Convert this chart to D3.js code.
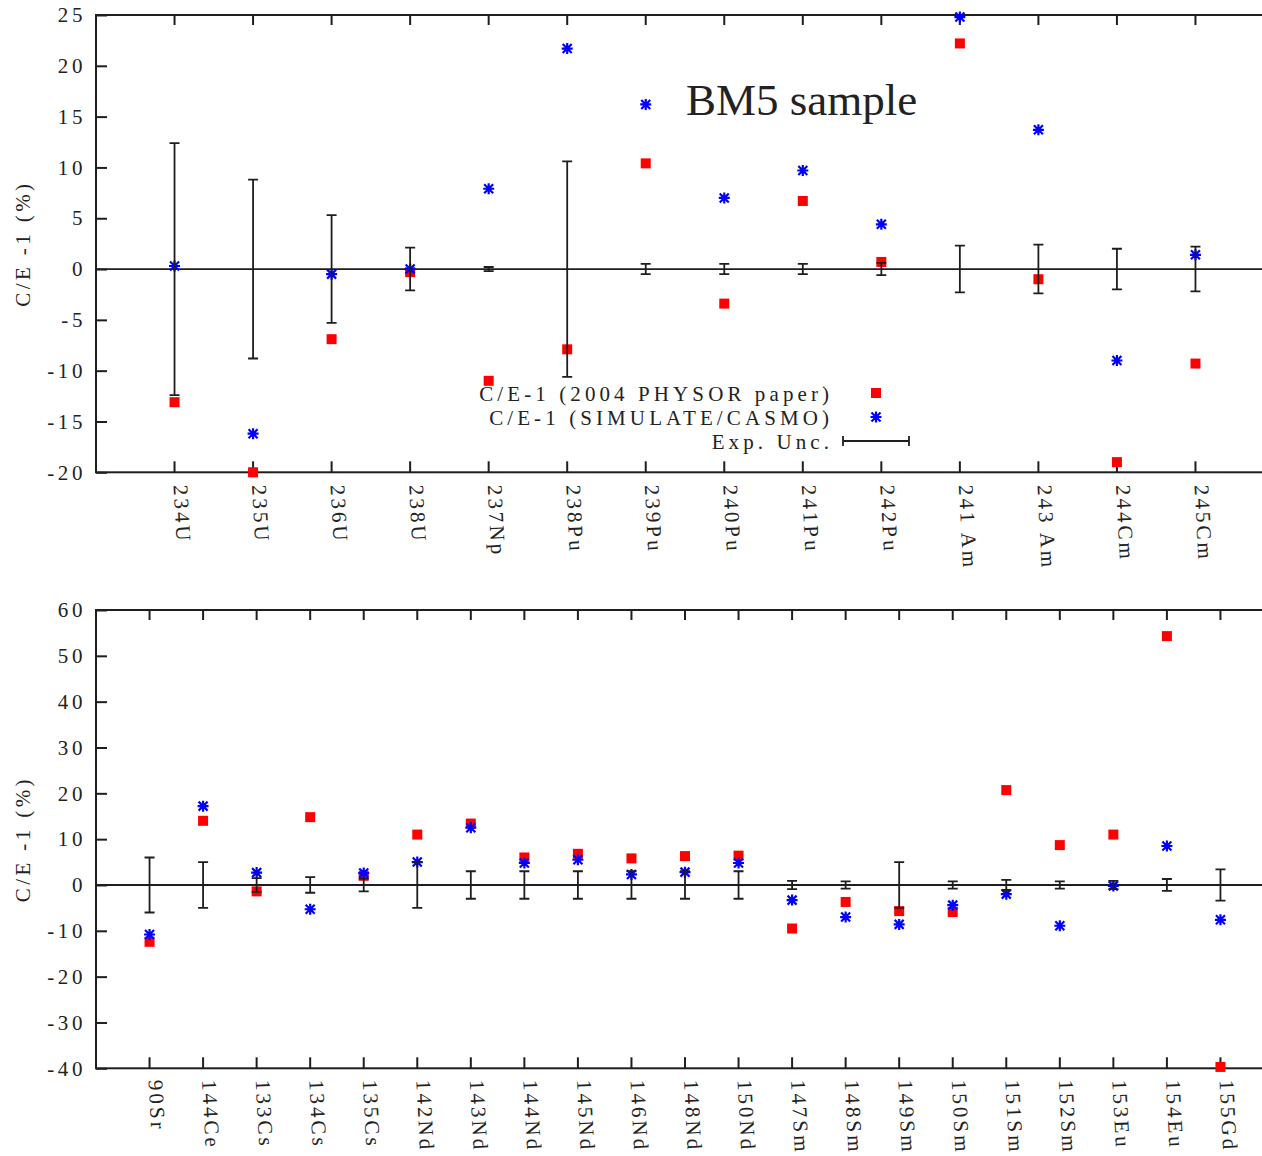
<!DOCTYPE html>
<html>
<head>
<meta charset="utf-8">
<script src="https://cdn.jsdelivr.net/npm/d3@7"></script>
<style>
  html, body { margin: 0; padding: 0; background: #fff; }
  svg { display: block; }
  text { font-family: "Liberation Serif", "DejaVu Serif", serif; fill: #222; }
</style>
</head>
<body>
<svg id="chart" width="1262" height="1156"></svg>
<script>
// ---- Actinides (upper panel) ----
const actinideLabels = ["234U", "235U", "236U", "238U", "237Np", "238Pu", "239Pu", "240Pu",
                        "241Pu", "242Pu", "241 Am", "243 Am", "244Cm", "245Cm"];
const actinidePhysor = [-13.1, -20.0, -6.9, -0.3, -11.0, -7.9, 10.4, -3.4, 6.7, 0.7, 22.2, -1.0, -19.0, -9.3];
const actinideCasmo  = [0.3, -16.2, -0.5, 0.0, 7.9, 21.7, 16.2, 7.0, 9.7, 4.4, 24.8, 13.7, -9.0, 1.4];
const actinideUnc    = [12.4, 8.8, 5.3, 2.1, 0.2, 10.6, 0.5, 0.5, 0.5, 0.6, 2.3, 2.4, 2.0, 2.2];
const actinideTicks  = [-20, -15, -10, -5, 0, 5, 10, 15, 20, 25];

// ---- Fission products (lower panel) ----
const fissionLabels = ["90Sr", "144Ce", "133Cs", "134Cs", "135Cs", "142Nd", "143Nd", "144Nd",
                       "145Nd", "146Nd", "148Nd", "150Nd", "147Sm", "148Sm", "149Sm", "150Sm",
                       "151Sm", "152Sm", "153Eu", "154Eu", "155Gd"];
const fissionPhysor = [-12.4, 14.0, -1.4, 14.8, 2.0, 11.0, 13.4, 6.0, 6.8, 5.8, 6.3, 6.4,
                       -9.5, -3.7, -5.7, -5.9, 20.7, 8.7, 11.0, 54.3, -39.7];
const fissionCasmo  = [-10.8, 17.2, 2.7, -5.3, 2.6, 5.0, 12.5, 4.8, 5.5, 2.3, 2.8, 4.8,
                       -3.3, -7.0, -8.6, -4.4, -2.0, -8.9, -0.2, 8.5, -7.6];
const fissionUnc    = [6.0, 5.0, 1.5, 1.7, 1.4, 5.0, 3.0, 3.0, 3.0, 3.0, 3.0, 3.0,
                       0.9, 0.8, 5.0, 0.8, 1.1, 0.8, 0.9, 1.3, 3.4];
const fissionTicks  = [-40, -30, -20, -10, 0, 10, 20, 30, 40, 50, 60];

const legendLabels = ["C/E-1 (2004 PHYSOR paper)", "C/E-1 (SIMULATE/CASMO)", "Exp. Unc."];
const yAxisTitle = "C/E -1 (%)";
const sampleTitle = "BM5 sample";

const INK = "#1e1e1e";
const RED = "#ff0000";
const BLUE = "#0000ff";
const FONT_SIZE = 21;
const LETTER_SP = 3.6;

const svg = d3.select("#chart");

function squareMark(sel, cx, cy) {
  sel.append("rect")
    .attr("x", cx - 5).attr("y", cy - 5)
    .attr("width", 10).attr("height", 10)
    .attr("fill", RED);
}

function starMark(sel, cx, cy) {
  sel.append("path")
    .attr("transform", `translate(${cx},${cy})`)
    .attr("d", "M-5.5,0H5.5M0,-5.5V5.5M-4.5,-4.5L4.5,4.5M-4.5,4.5L4.5,-4.5")
    .attr("fill", "none")
    .attr("stroke", BLUE)
    .attr("stroke-width", 2.2);
}

function drawPanel(cfg) {
  const g = svg.append("g");
  const n = cfg.labels.length;
  const x = d3.scaleLinear().domain([0, n + 1]).range([cfg.left, cfg.right]);
  const y = d3.scaleLinear().domain(cfg.yDomain).range([cfg.bottom, cfg.top]);
  const idx = d3.range(n);

  // frame
  g.append("rect")
    .attr("x", cfg.left).attr("y", cfg.top)
    .attr("width", cfg.right - cfg.left).attr("height", cfg.bottom - cfg.top)
    .attr("fill", "none").attr("stroke", INK).attr("stroke-width", 2);

  // y axis (left, with labels) and mirrored ticks (right)
  const yAxis = g.append("g")
    .attr("transform", `translate(${cfg.left},0)`)
    .call(d3.axisLeft(y).tickValues(cfg.ticks).tickSize(-11).tickPadding(10).tickFormat(d => String(d)));
  yAxis.select(".domain").remove();
  yAxis.selectAll(".tick line").attr("stroke", INK).attr("stroke-width", 2);
  yAxis.selectAll(".tick text")
    .attr("font-family", "Liberation Serif, DejaVu Serif, serif")
    .attr("font-size", FONT_SIZE)
    .attr("letter-spacing", LETTER_SP)
    .attr("fill", "#222");

  const yAxisR = g.append("g")
    .attr("transform", `translate(${cfg.right},0)`)
    .call(d3.axisRight(y).tickValues(cfg.ticks).tickSize(-11).tickFormat(""));
  yAxisR.select(".domain").remove();
  yAxisR.selectAll(".tick line").attr("stroke", INK).attr("stroke-width", 2);

  // x ticks on bottom and top edges
  g.selectAll(".xtick-b").data(idx).join("line")
    .attr("x1", i => x(i + 1)).attr("x2", i => x(i + 1))
    .attr("y1", cfg.bottom).attr("y2", cfg.bottom - 11)
    .attr("stroke", INK).attr("stroke-width", 2);
  g.selectAll(".xtick-t").data(idx).join("line")
    .attr("x1", i => x(i + 1)).attr("x2", i => x(i + 1))
    .attr("y1", cfg.top).attr("y2", cfg.top + 10)
    .attr("stroke", INK).attr("stroke-width", 2);

  // rotated category labels
  g.selectAll(".xlab").data(idx).join("text")
    .attr("transform", i => `translate(${x(i + 1) - 1},${cfg.bottom + cfg.labelGap}) rotate(87)`)
    .attr("text-anchor", "start")
    .attr("font-size", FONT_SIZE)
    .attr("letter-spacing", LETTER_SP - 0.6)
    .text(i => cfg.labels[i]);

  // zero reference line
  g.append("line")
    .attr("x1", cfg.left).attr("x2", cfg.right)
    .attr("y1", y(0)).attr("y2", y(0))
    .attr("stroke", INK).attr("stroke-width", 1.8);

  // series: PHYSOR squares, SIMULATE/CASMO stars, then experimental uncertainty bars
  const marks = g.append("g");
  idx.forEach(i => squareMark(marks, x(i + 1), y(cfg.physor[i])));
  idx.forEach(i => starMark(marks, x(i + 1), y(cfg.casmo[i])));
  g.append("g").selectAll("path").data(idx).join("path")
    .attr("d", i => {
      const cx = x(i + 1), y1 = y(cfg.unc[i]), y2 = y(-cfg.unc[i]);
      return `M${cx},${y1}V${y2}M${cx - 5},${y1}H${cx + 5}M${cx - 5},${y2}H${cx + 5}`;
    })
    .attr("fill", "none").attr("stroke", INK).attr("stroke-width", 1.8);

  // y axis title
  g.append("text")
    .attr("transform", `translate(30,${(cfg.top + cfg.bottom) / 2}) rotate(-90)`)
    .attr("text-anchor", "middle")
    .attr("font-size", FONT_SIZE)
    .attr("letter-spacing", LETTER_SP - 0.2)
    .text(yAxisTitle);

  return { g, x, y };
}

const upper = drawPanel({
  labels: actinideLabels, physor: actinidePhysor, casmo: actinideCasmo, unc: actinideUnc,
  ticks: actinideTicks, yDomain: [-20, 25],
  left: 96, right: 1274, top: 15, bottom: 472.3, labelGap: 13
});

drawPanel({
  labels: fissionLabels, physor: fissionPhysor, casmo: fissionCasmo, unc: fissionUnc,
  ticks: fissionTicks, yDomain: [-40, 60],
  left: 96, right: 1274, top: 610, bottom: 1068.3, labelGap: 12
});

// sample label
upper.g.append("text")
  .attr("x", 686).attr("y", 115)
  .attr("font-size", 45)
  .text(sampleTitle);

// key for the upper panel
const KEY_SP = 4.1;
const key = upper.g.append("g");
const keyTextRight = 829 + KEY_SP;
const keySampleX = 876;
const keyRows = [401, 425, 449];
key.selectAll("text").data(legendLabels).join("text")
  .attr("x", keyTextRight)
  .attr("y", (d, i) => keyRows[i])
  .attr("text-anchor", "end")
  .attr("font-size", FONT_SIZE)
  .attr("letter-spacing", KEY_SP)
  .text(d => d);
squareMark(key, keySampleX, 393);
starMark(key, keySampleX, 417);
key.append("path")
  .attr("d", `M843,441H909M843,436V446M909,436V446`)
  .attr("fill", "none").attr("stroke", INK).attr("stroke-width", 1.8);
</script>
</body>
</html>
